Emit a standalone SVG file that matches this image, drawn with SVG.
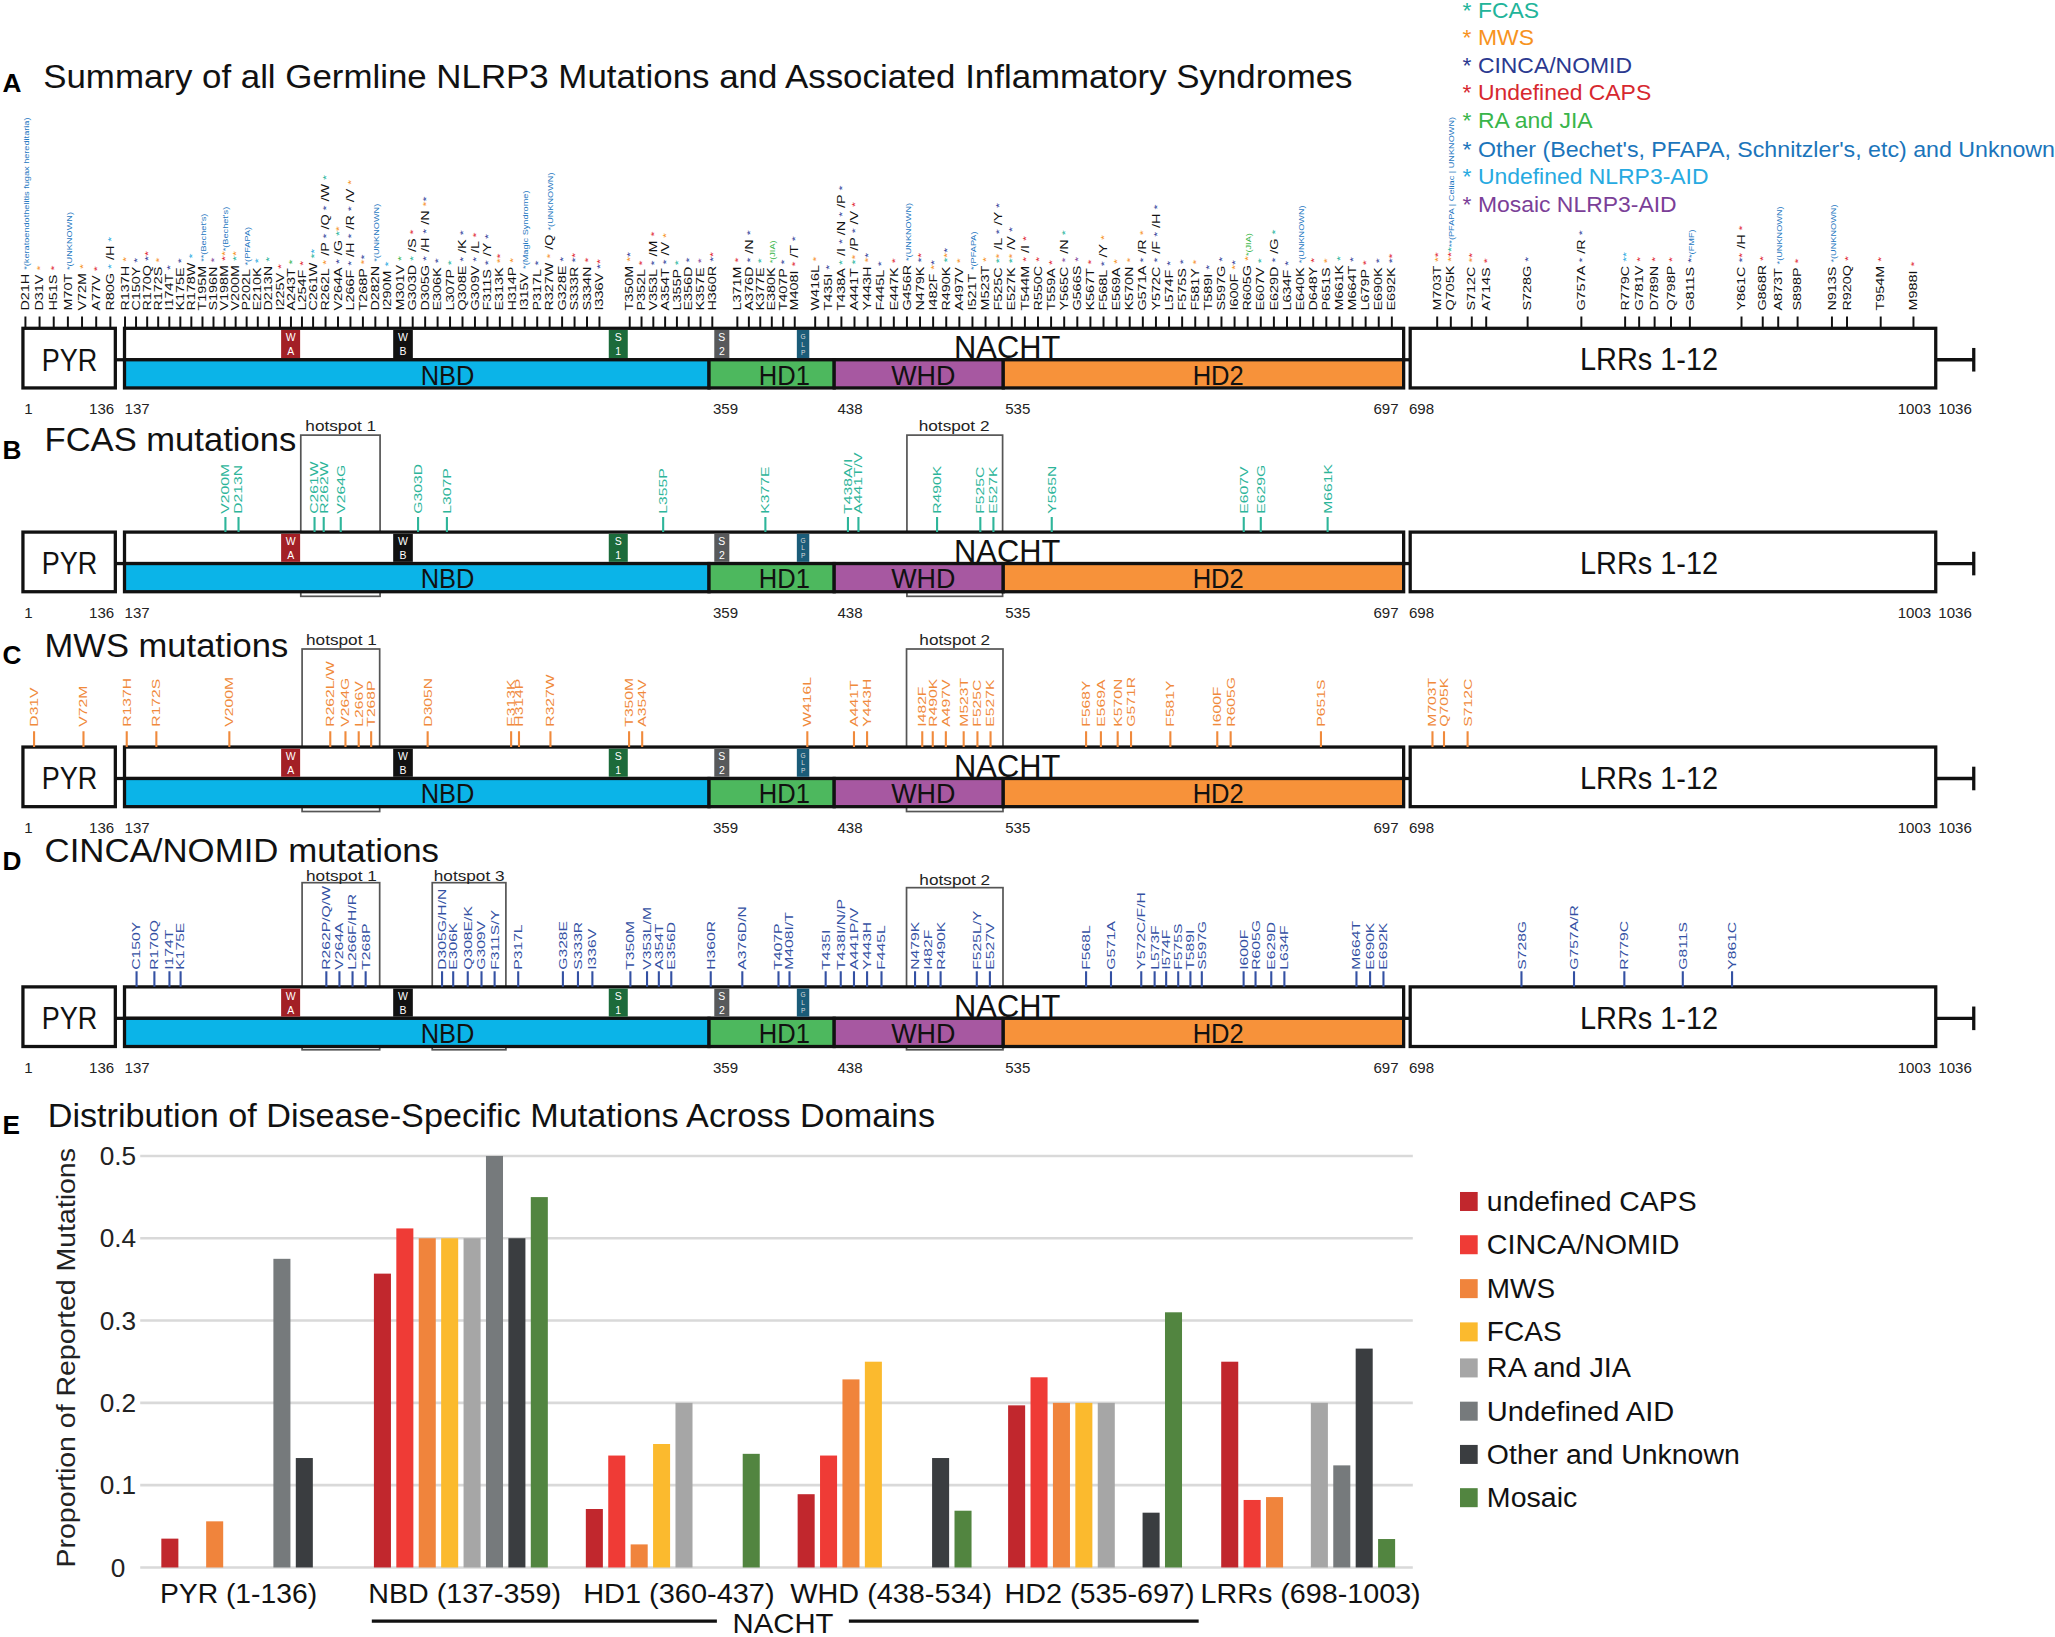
<svg xmlns="http://www.w3.org/2000/svg" width="2055" height="1637" viewBox="0 0 2055 1637">
<style>
text{font-family:"Liberation Sans",Arial,sans-serif}
.bx{fill:#fff;stroke:#111;stroke-width:2.5}
.bs{stroke:#111;stroke-width:2.5}
.ln{stroke:#111;stroke-width:2.5;fill:none}
.mt{fill:#fff;font-size:8px;text-anchor:middle}
.mt2{fill:#ddd;font-size:5px;text-anchor:middle}
.dl{font-size:24px;fill:#111}
.dm{font-size:21px;fill:#111}
.num{font-size:11.5px;fill:#222}
.ttl{font-size:25px;fill:#111}
.pl{font-size:20px;font-weight:bold;fill:#000}
.hs{fill:none;stroke:#555;stroke-width:1.3}
.hst{font-size:10.5px;fill:#222}
.la{font-size:11px;fill:#111}
.lb{font-size:12px;fill:#2db59a}
.lc{font-size:12px;fill:#f08a3c}
.ld{font-size:12px;fill:#3451a3}
.s{font-size:9.5px}
.an{font-size:7px}
.f{fill:#22b49a}.m{fill:#f7931e}.c{fill:#2e3d98}.u{fill:#e1262d}.j{fill:#39b54a}.o{fill:#1f78c1}.n{fill:#27aae1}.p{fill:#7f3f98}
.lg{font-size:17.5px}
.tA{stroke:#111;stroke-width:1.5;fill:none}
.tB{stroke:#2db59a;stroke-width:1.6;fill:none}
.tC{stroke:#f08a3c;stroke-width:1.6;fill:none}
.tD{stroke:#3451a3;stroke-width:1.6;fill:none}
.grid{stroke:#d9d9d9;stroke-width:2}
.ax{font-size:20px;fill:#222;text-anchor:middle}
.xl{font-size:21px;fill:#111}
.leg{font-size:21px;fill:#111}
.b1{fill:#c1272d}.b2{fill:#ef3b36}.b3{fill:#f0843c}.b4{fill:#fbba2e}.b5{fill:#a6a6a6}.b6{fill:#767a7c}.b7{fill:#3a3d40}.b8{fill:#528540}
</style>
<defs>
<g id="bar">
<rect x="17.5" y="0" width="70.5" height="45.5" class="bx"/>
<line x1="88" y1="24" x2="95" y2="24" class="ln"/>
<rect x="95" y="0" width="976" height="24" class="bx"/>
<rect x="95" y="24" width="446" height="21.5" fill="#0bb4e8" class="bs"/>
<rect x="541" y="24" width="95.5" height="21.5" fill="#4db85e" class="bs"/>
<rect x="636.5" y="24" width="129" height="21.5" fill="#a758a1" class="bs"/>
<rect x="765.5" y="24" width="305.5" height="21.5" fill="#f7923a" class="bs"/>
<line x1="1071" y1="24" x2="1076" y2="24" class="ln"/>
<rect x="1076" y="0" width="401" height="45.5" class="bx"/>
<line x1="1477" y1="24" x2="1506" y2="24" class="ln"/>
<line x1="1506" y1="15" x2="1506" y2="33" class="ln"/>
<rect x="214.5" y="1.3" width="14.5" height="21.4" fill="#a32026"/>
<rect x="300" y="1.3" width="15" height="21.4" fill="#111"/>
<rect x="464.5" y="1.3" width="14.5" height="21.4" fill="#1c6b3b"/>
<rect x="545" y="1.3" width="11.5" height="21.4" fill="#58595b"/>
<rect x="608" y="1.3" width="9.5" height="21.4" fill="#1b5c79"/>
<text x="221.75" y="10" class="mt">W</text><text x="221.75" y="20.5" class="mt">A</text>
<text x="307.5" y="10" class="mt">W</text><text x="307.5" y="20.5" class="mt">B</text>
<text x="471.75" y="10" class="mt">S</text><text x="471.75" y="20.5" class="mt">1</text>
<text x="550.75" y="10" class="mt">S</text><text x="550.75" y="20.5" class="mt">2</text>
<text x="612.75" y="8" class="mt2">G</text><text x="612.75" y="14" class="mt2">L</text><text x="612.75" y="20" class="mt2">P</text>
<text x="31.8" y="32.3" class="dl" textLength="42.4" lengthAdjust="spacingAndGlyphs">PYR</text>
<text x="728" y="23" class="dl" textLength="81" lengthAdjust="spacingAndGlyphs">NACHT</text>
<text x="321" y="43" class="dm" textLength="41" lengthAdjust="spacingAndGlyphs">NBD</text>
<text x="579" y="43" class="dm" textLength="39" lengthAdjust="spacingAndGlyphs">HD1</text>
<text x="680" y="43" class="dm" textLength="49" lengthAdjust="spacingAndGlyphs">WHD</text>
<text x="910" y="43" class="dm" textLength="39" lengthAdjust="spacingAndGlyphs">HD2</text>
<text x="1205.5" y="32" class="dl" font-size="25" textLength="105.5" lengthAdjust="spacingAndGlyphs">LRRs 1-12</text>
<text x="18.5" y="65.5" class="num">1</text>
<text x="68" y="65.5" class="num">136</text>
<text x="95" y="65.5" class="num">137</text>
<text x="544" y="65.5" class="num">359</text>
<text x="639" y="65.5" class="num">438</text>
<text x="767" y="65.5" class="num">535</text>
<text x="1048" y="65.5" class="num">697</text>
<text x="1075" y="65.5" class="num">698</text>
<text x="1448" y="65.5" class="num">1003</text>
<text x="1479" y="65.5" class="num">1036</text>
</g>
</defs>
<rect width="2055" height="1637" fill="#fff"/>
<g transform="scale(1.31059)">

<g id="titleA">
<text x="2" y="70" class="pl" font-size="18">A</text>
<text x="33" y="67" class="ttl" font-size="24" textLength="999" lengthAdjust="spacingAndGlyphs">Summary of all Germline NLRP3 Mutations and Associated Inflammatory Syndromes</text>
</g>

<g id="legendA" class="lg">
<text x="1116" y="13.5" fill="#22b49a">* FCAS</text>
<text x="1116" y="34.5" fill="#f7931e">* MWS</text>
<text x="1116" y="55.5" fill="#2b3990">* CINCA/NOMID</text>
<text x="1116" y="76.5" fill="#d7282f">* Undefined CAPS</text>
<text x="1116" y="98" fill="#39b54a">* RA and JIA</text>
<text x="1116" y="119.5" fill="#1b75bb" textLength="452" lengthAdjust="spacingAndGlyphs">* Other (Bechet's, PFAPA, Schnitzler's, etc) and Unknown</text>
<text x="1116" y="140.5" fill="#27aae1">* Undefined NLRP3-AID</text>
<text x="1116" y="162" fill="#7b3f98">* Mosaic NLRP3-AID</text>
</g>

<g id="panelB-hotspots">
<rect x="229.5" y="332" width="60.5" height="123" class="hs"/>
<rect x="692" y="332" width="73" height="123" class="hs"/>
<text x="233" y="329" class="hst" textLength="54" lengthAdjust="spacingAndGlyphs">hotspot 1</text>
<text x="701" y="329" class="hst" textLength="54" lengthAdjust="spacingAndGlyphs">hotspot 2</text>
</g>
<g id="panelC-hotspots">
<rect x="230.5" y="495.2" width="59.2" height="124" class="hs"/>
<rect x="691.7" y="495.2" width="73.6" height="124" class="hs"/>
<text x="233.5" y="492.5" class="hst" textLength="54" lengthAdjust="spacingAndGlyphs">hotspot 1</text>
<text x="701.5" y="492.5" class="hst" textLength="54" lengthAdjust="spacingAndGlyphs">hotspot 2</text>
</g>
<g id="panelD-hotspots">
<rect x="230.5" y="673.5" width="59.2" height="127.5" class="hs"/>
<rect x="329.8" y="673.5" width="56.2" height="127.5" class="hs"/>
<rect x="691.7" y="677.3" width="73.6" height="123.7" class="hs"/>
<text x="233.5" y="672.5" class="hst" textLength="54" lengthAdjust="spacingAndGlyphs">hotspot 1</text>
<text x="331" y="672.5" class="hst" textLength="54" lengthAdjust="spacingAndGlyphs">hotspot 3</text>
<text x="701.5" y="675.5" class="hst" textLength="54" lengthAdjust="spacingAndGlyphs">hotspot 2</text>
</g>

<g id="barA"><use href="#bar" y="250.5"/></g>
<g id="barB"><use href="#bar" y="406"/></g>
<g id="barC"><use href="#bar" y="570"/></g>
<g id="barD"><use href="#bar" y="753"/></g>

<g id="titleB"><text x="2" y="350" class="pl" font-size="18">B</text><text x="34" y="344.5" class="ttl" textLength="192" lengthAdjust="spacingAndGlyphs">FCAS mutations</text></g>
<g id="titleC"><text x="2" y="507" class="pl" font-size="18">C</text><text x="34" y="501.5" class="ttl" font-size="24" textLength="186" lengthAdjust="spacingAndGlyphs">MWS mutations</text></g>
<g id="titleD"><text x="2" y="664" class="pl" font-size="18">D</text><text x="34" y="658" class="ttl" font-size="24" textLength="301" lengthAdjust="spacingAndGlyphs">CINCA/NOMID mutations</text></g>

<g id="connectors">
<path class="tA" d="M19.4 241.5v9M30.2 241.5v9M41 241.5v9M51.8 241.5v9M62.6 241.5v9M73.4 241.5v9M84.2 241.5v9M95.4 241.5v9M103.8 241.5v9M112.3 241.5v9M120.7 241.5v9M129.2 241.5v9M137.6 241.5v9M146 241.5v9M154.5 241.5v9M162.9 241.5v9M171.4 241.5v9M179.8 241.5v9M188.2 241.5v9M196.7 241.5v9M205.1 241.5v9M213.6 241.5v9M222 241.5v9M230.4 241.5v9M238.9 241.5v9M248.4 241.5v9M257.9 241.5v9M267.4 241.5v9M276.9 241.5v9M286.4 241.5v9M295.9 241.5v9M305.4 241.5v9M314.9 241.5v9M324.4 241.5v9M333.9 241.5v9M343.4 241.5v9M352.9 241.5v9M362.4 241.5v9M371.9 241.5v9M381.4 241.5v9M390.9 241.5v9M400.4 241.5v9M409.9 241.5v9M419.4 241.5v9M428.9 241.5v9M438.4 241.5v9M447.9 241.5v9M457.4 241.5v9M480.5 241.5v9M489.5 241.5v9M498.5 241.5v9M507.5 241.5v9M516.5 241.5v9M525.5 241.5v9M534.5 241.5v9M543.5 241.5v9M562.6 241.5v9M571.4 241.5v9M580.1 241.5v9M588.9 241.5v9M597.6 241.5v9M606.4 241.5v9M622 241.5v9M632 241.5v9M642 241.5v9M652 241.5v9M662 241.5v9M672 241.5v9M682 241.5v9M692 241.5v9M702 241.5v9M712 241.5v9M722 241.5v9M732 241.5v9M742 241.5v9M752 241.5v9M762 241.5v9M772 241.5v9M782 241.5v9M792 241.5v9M802 241.5v9M812 241.5v9M822 241.5v9M832 241.5v9M842 241.5v9M852 241.5v9M862 241.5v9M872 241.5v9M882 241.5v9M892 241.5v9M902 241.5v9M912 241.5v9M922 241.5v9M932 241.5v9M942 241.5v9M952 241.5v9M962 241.5v9M972 241.5v9M982 241.5v9M992 241.5v9M1002 241.5v9M1012 241.5v9M1022 241.5v9M1032 241.5v9M1042 241.5v9M1052 241.5v9M1062 241.5v9M1096.6 241.5v9M1107 241.5v9M1123 241.5v9M1134 241.5v9M1165.6 241.5v9M1206.6 241.5v9M1240 241.5v9M1250.7 241.5v9M1262.5 241.5v9M1275 241.5v9M1289.4 241.5v9M1328.8 241.5v9M1345 241.5v9M1356.8 241.5v9M1371.6 241.5v9M1397.8 241.5v9M1409.3 241.5v9M1435 241.5v9M1460 241.5v9"/>
<path class="tB" d="M172 394.5v11.5M182 394.5v11.5M240 394.5v11.5M247 394.5v11.5M260 394.5v11.5M319 394.5v11.5M341 394.5v11.5M506 394.5v11.5M584 394.5v11.5M647 394.5v11.5M655 394.5v11.5M715 394.5v11.5M748 394.5v11.5M758 394.5v11.5M802.5 394.5v11.5M949 394.5v11.5M962 394.5v11.5M1013 394.5v11.5"/>
<path class="tC" d="M26 558v12M63.7 558v12M96.7 558v12M119.3 558v12M175 558v12M252 558v12M263.6 558v12M273.7 558v12M283.2 558v12M326.3 558v12M390 558v12M396 558v12M420 558v12M480 558v12M490 558v12M616 558v12M651.6 558v12M661.6 558v12M703.7 558v12M711.7 558v12M721.7 558v12M735.3 558v12M745.8 558v12M755.8 558v12M828.7 558v12M840 558v12M852.8 558v12M863 558v12M893 558v12M928.8 558v12M939 558v12M1007.9 558v12M1093 558v12M1101.8 558v12M1119.8 558v12"/>
<path class="tD" d="M104.2 741v12M117.8 741v12M129.3 741v12M137.8 741v12M249 741v12M259 741v12M269 741v12M279 741v12M337.3 741v12M345.8 741v12M356.9 741v12M367.4 741v12M377.4 741v12M395.4 741v12M429.5 741v12M441 741v12M452 741v12M481 741v12M493.7 741v12M502.7 741v12M512.2 741v12M542.3 741v12M566.4 741v12M594 741v12M602.4 741v12M630 741v12M641.5 741v12M651.6 741v12M661.6 741v12M672.6 741v12M698.2 741v12M708.2 741v12M717.7 741v12M745.3 741v12M755.3 741v12M828.7 741v12M847.7 741v12M870.8 741v12M881 741v12M889.8 741v12M899 741v12M908.3 741v12M917 741v12M948.9 741v12M958 741v12M970 741v12M980 741v12M1035 741v12M1045.4 741v12M1055.6 741v12M1160.9 741v12M1201 741v12M1239.4 741v12M1284 741v12M1321.6 741v12"/>
</g>

<g id="labelsA" class="la" transform="rotate(-90) scale(1,0.75)">
<text x="-237" y="29.6">D21H <tspan class="an o">*(keratoendothelitis fugax hereditaria)</tspan></text>
<text x="-237" y="44">D31V <tspan class="s m">*</tspan></text>
<text x="-237" y="58.4">H51S <tspan class="s u">*</tspan></text>
<text x="-237" y="72.8">M70T <tspan class="an o">*(UNKNOWN)</tspan></text>
<text x="-237" y="87.2">V72M <tspan class="s m">*</tspan></text>
<text x="-237" y="101.6">A77V <tspan class="s u">*</tspan></text>
<text x="-237" y="116">R80G <tspan class="s n">*</tspan> /H <tspan class="s n">*</tspan></text>
<text x="-237" y="130.9">R137H <tspan class="s m">*</tspan></text>
<text x="-237" y="142.2">C150Y <tspan class="s c">*</tspan></text>
<text x="-237" y="153.8">R170Q <tspan class="s c">*</tspan><tspan class="s u">*</tspan></text>
<text x="-237" y="164.7">R172S <tspan class="s m">*</tspan></text>
<text x="-237" y="175.9">I174T <tspan class="s c">*</tspan></text>
<text x="-237" y="187.2">K175E <tspan class="s c">*</tspan></text>
<text x="-237" y="198.4">R178W <tspan class="s n">*</tspan></text>
<text x="-237" y="209.7">T195M <tspan class="an o">**(Bechet's)</tspan></text>
<text x="-237" y="221">S196N <tspan class="s p">*</tspan></text>
<text x="-237" y="232.2">V198M <tspan class="s u">*</tspan><tspan class="s m">*</tspan><tspan class="an o">*(Bechet's)</tspan></text>
<text x="-237" y="243.5">V200M <tspan class="s f">*</tspan><tspan class="s m">*</tspan></text>
<text x="-237" y="254.7">P202L <tspan class="an o">*(PFAPA)</tspan></text>
<text x="-237" y="266">E210K <tspan class="s n">*</tspan></text>
<text x="-237" y="277.2">D213N <tspan class="s f">*</tspan></text>
<text x="-237" y="288.5">I225V <tspan class="s u">*</tspan></text>
<text x="-237" y="299.7">A243T <tspan class="s j">*</tspan></text>
<text x="-237" y="311">L254F <tspan class="s u">*</tspan></text>
<text x="-237" y="322.2">C261W <tspan class="s f">*</tspan><tspan class="s n">*</tspan></text>
<text x="-237" y="334.9">R262L <tspan class="s m">*</tspan> /P <tspan class="s c">*</tspan> /Q <tspan class="s c">*</tspan> /W <tspan class="s f">*</tspan></text>
<text x="-237" y="347.6">V264A <tspan class="s c">*</tspan> /G <tspan class="s f">*</tspan><tspan class="s m">*</tspan></text>
<text x="-237" y="360.2">L266F <tspan class="s c">*</tspan> /H <tspan class="s c">*</tspan> /R <tspan class="s c">*</tspan> /V <tspan class="s m">*</tspan></text>
<text x="-237" y="372.9">T268P <tspan class="s m">*</tspan><tspan class="s c">*</tspan></text>
<text x="-237" y="385.6">D282N <tspan class="an o">*(UNKNOWN)</tspan></text>
<text x="-237" y="398.2">I290M <tspan class="s n">*</tspan></text>
<text x="-237" y="410.9">M301V <tspan class="s j">*</tspan></text>
<text x="-237" y="423.6">G303D <tspan class="s f">*</tspan> /S <tspan class="s u">*</tspan></text>
<text x="-237" y="436.2">D305G <tspan class="s c">*</tspan> /H <tspan class="s c">*</tspan> /N <tspan class="s m">*</tspan><tspan class="s c">*</tspan></text>
<text x="-237" y="448.9">E306K <tspan class="s c">*</tspan></text>
<text x="-237" y="461.6">L307P <tspan class="s f">*</tspan></text>
<text x="-237" y="474.2">Q308E <tspan class="s c">*</tspan> /K <tspan class="s c">*</tspan></text>
<text x="-237" y="486.9">G309V <tspan class="s c">*</tspan> /L <tspan class="s u">*</tspan></text>
<text x="-237" y="499.6">F311S <tspan class="s c">*</tspan> /Y <tspan class="s c">*</tspan></text>
<text x="-237" y="512.2">E313K <tspan class="s m">*</tspan><tspan class="s u">*</tspan></text>
<text x="-237" y="524.9">H314P <tspan class="s m">*</tspan></text>
<text x="-237" y="537.6">I315V <tspan class="an o">*(Magic Syndrome)</tspan></text>
<text x="-237" y="550.2">P317L <tspan class="s c">*</tspan></text>
<text x="-237" y="562.9">R327W <tspan class="s m">*</tspan> /Q <tspan class="an o">*(UNKNOWN)</tspan></text>
<text x="-237" y="575.6">G328E <tspan class="s c">*</tspan></text>
<text x="-237" y="588.2">S333R <tspan class="s c">*</tspan><tspan class="s u">*</tspan></text>
<text x="-237" y="600.9">S334N <tspan class="s u">*</tspan></text>
<text x="-237" y="613.6">I336V <tspan class="s c">*</tspan><tspan class="s u">*</tspan></text>
<text x="-237" y="644.4">T350M <tspan class="s m">*</tspan><tspan class="s c">*</tspan></text>
<text x="-237" y="656.4">P352L <tspan class="s u">*</tspan></text>
<text x="-237" y="668.4">V353L <tspan class="s c">*</tspan> /M <tspan class="s u">*</tspan></text>
<text x="-237" y="680.4">A354T <tspan class="s c">*</tspan> /V <tspan class="s m">*</tspan></text>
<text x="-237" y="692.4">L355P <tspan class="s f">*</tspan></text>
<text x="-237" y="704.4">E356D <tspan class="s c">*</tspan></text>
<text x="-237" y="716.4">K357E <tspan class="s p">*</tspan></text>
<text x="-237" y="728.4">H360R <tspan class="s c">*</tspan><tspan class="s u">*</tspan></text>
<text x="-237" y="753.9">L371M <tspan class="s u">*</tspan></text>
<text x="-237" y="765.6">A376D <tspan class="s c">*</tspan> /N <tspan class="s c">*</tspan></text>
<text x="-237" y="777.2">K377E <tspan class="s f">*</tspan></text>
<text x="-237" y="788.9">E380K <tspan class="an j">*(JIA)</tspan></text>
<text x="-237" y="800.5">T407P <tspan class="s c">*</tspan></text>
<text x="-237" y="812.3">M408I <tspan class="s u">*</tspan> /T <tspan class="s c">*</tspan></text>
<text x="-237" y="833.1">W416L <tspan class="s m">*</tspan></text>
<text x="-237" y="846.4">T435I <tspan class="s c">*</tspan></text>
<text x="-237" y="859.7">T438A <tspan class="s f">*</tspan> /I <tspan class="s c">*</tspan> /N <tspan class="s c">*</tspan> /P <tspan class="s c">*</tspan></text>
<text x="-237" y="873.1">A441T <tspan class="s f">*</tspan><tspan class="s m">*</tspan> /P <tspan class="s c">*</tspan> /V <tspan class="s u">*</tspan></text>
<text x="-237" y="886.4">Y443H <tspan class="s m">*</tspan><tspan class="s c">*</tspan></text>
<text x="-237" y="899.7">F445L <tspan class="s c">*</tspan></text>
<text x="-237" y="913.1">E447K <tspan class="s u">*</tspan></text>
<text x="-237" y="926.4">G456R <tspan class="an o">*(UNKNOWN)</tspan></text>
<text x="-237" y="939.7">N479K <tspan class="s c">*</tspan><tspan class="s u">*</tspan></text>
<text x="-237" y="953.1">I482F <tspan class="s m">*</tspan><tspan class="s c">*</tspan></text>
<text x="-237" y="966.4">R490K <tspan class="s f">*</tspan><tspan class="s m">*</tspan><tspan class="s c">*</tspan></text>
<text x="-237" y="979.7">A497V <tspan class="s m">*</tspan></text>
<text x="-237" y="993.1">I521T <tspan class="an o">*(PFAPA)</tspan></text>
<text x="-237" y="1006.4">M523T <tspan class="s m">*</tspan></text>
<text x="-237" y="1019.7">F525C <tspan class="s f">*</tspan><tspan class="s m">*</tspan> /L <tspan class="s c">*</tspan> /Y <tspan class="s c">*</tspan></text>
<text x="-237" y="1033.1">E527K <tspan class="s f">*</tspan><tspan class="s m">*</tspan> /V <tspan class="s c">*</tspan></text>
<text x="-237" y="1046.4">T544M <tspan class="s u">*</tspan> /I <tspan class="s u">*</tspan></text>
<text x="-237" y="1059.7">R550C <tspan class="s u">*</tspan></text>
<text x="-237" y="1073.1">T559A <tspan class="s u">*</tspan></text>
<text x="-237" y="1086.4">Y565C <tspan class="s p">*</tspan> /N <tspan class="s f">*</tspan></text>
<text x="-237" y="1099.7">G566S <tspan class="s p">*</tspan></text>
<text x="-237" y="1113.1">K567T <tspan class="s u">*</tspan></text>
<text x="-237" y="1126.4">F568L <tspan class="s c">*</tspan> /Y <tspan class="s m">*</tspan></text>
<text x="-237" y="1139.7">E569A <tspan class="s m">*</tspan></text>
<text x="-237" y="1153.1">K570N <tspan class="s m">*</tspan></text>
<text x="-237" y="1166.4">G571A <tspan class="s c">*</tspan> /R <tspan class="s m">*</tspan></text>
<text x="-237" y="1179.7">Y572C <tspan class="s c">*</tspan> /F <tspan class="s c">*</tspan> /H <tspan class="s c">*</tspan></text>
<text x="-237" y="1193.1">L574F <tspan class="s c">*</tspan></text>
<text x="-237" y="1206.4">F575S <tspan class="s c">*</tspan></text>
<text x="-237" y="1219.7">F581Y <tspan class="s m">*</tspan></text>
<text x="-237" y="1233.1">T589I <tspan class="s c">*</tspan></text>
<text x="-237" y="1246.4">S597G <tspan class="s c">*</tspan></text>
<text x="-237" y="1259.7">I600F <tspan class="s m">*</tspan><tspan class="s c">*</tspan></text>
<text x="-237" y="1273.1">R605G <tspan class="s m">*</tspan><tspan class="an j">*(JIA)</tspan></text>
<text x="-237" y="1286.4">E607V <tspan class="s f">*</tspan></text>
<text x="-237" y="1299.7">E629D <tspan class="s c">*</tspan> /G <tspan class="s f">*</tspan></text>
<text x="-237" y="1313.1">L634F <tspan class="s c">*</tspan></text>
<text x="-237" y="1326.4">E640K <tspan class="an o">*(UNKNOWN)</tspan></text>
<text x="-237" y="1339.7">D648Y <tspan class="s u">*</tspan></text>
<text x="-237" y="1353.1">P651S <tspan class="s m">*</tspan></text>
<text x="-237" y="1366.4">M661K <tspan class="s f">*</tspan></text>
<text x="-237" y="1379.7">M664T <tspan class="s c">*</tspan></text>
<text x="-237" y="1393.1">L679P <tspan class="s u">*</tspan></text>
<text x="-237" y="1406.4">E690K <tspan class="s c">*</tspan></text>
<text x="-237" y="1419.7">E692K <tspan class="s c">*</tspan><tspan class="s u">*</tspan></text>
<text x="-237" y="1465.9">M703T <tspan class="s m">*</tspan><tspan class="s u">*</tspan></text>
<text x="-237" y="1479.7">Q705K <tspan class="s m">*</tspan><tspan class="s u">*</tspan><tspan class="s f">*</tspan><tspan class="an o">**(PFAPA | Celiac | UNKNOWN)</tspan></text>
<text x="-237" y="1501.1">S712C <tspan class="s m">*</tspan><tspan class="s u">*</tspan></text>
<text x="-237" y="1515.7">A714S <tspan class="s u">*</tspan></text>
<text x="-237" y="1557.9">S728G <tspan class="s c">*</tspan></text>
<text x="-237" y="1612.5">G757A <tspan class="s c">*</tspan> /R <tspan class="s c">*</tspan></text>
<text x="-237" y="1657.1">R779C <tspan class="s n">*</tspan><tspan class="s n">*</tspan></text>
<text x="-237" y="1671.3">G781V <tspan class="s u">*</tspan></text>
<text x="-237" y="1687.1">D789N <tspan class="s u">*</tspan></text>
<text x="-237" y="1703.7">Q798P <tspan class="s u">*</tspan></text>
<text x="-237" y="1722.9">G811S <tspan class="s c">*</tspan><tspan class="an o">*(FMF)</tspan></text>
<text x="-237" y="1775.5">Y861C <tspan class="s c">*</tspan><tspan class="s u">*</tspan> /H <tspan class="s u">*</tspan></text>
<text x="-237" y="1797.1">G868R <tspan class="s u">*</tspan></text>
<text x="-237" y="1812.8">A873T <tspan class="an o">*(UNKNOWN)</tspan></text>
<text x="-237" y="1832.5">S898P <tspan class="s u">*</tspan></text>
<text x="-237" y="1867.5">N913S <tspan class="an o">*(UNKNOWN)</tspan></text>
<text x="-237" y="1882.8">R920Q <tspan class="s u">*</tspan></text>
<text x="-237" y="1917.1">T954M <tspan class="s u">*</tspan></text>
<text x="-237" y="1950.4">M988I <tspan class="s u">*</tspan></text>
</g>

<g id="labelsB" class="lb" transform="rotate(-90) scale(1,0.7)">
<text x="-392" y="250">V200M</text>
<text x="-392" y="264.3">D213N</text>
<text x="-392" y="347.1">C261W</text>
<text x="-392" y="357.1">R262W</text>
<text x="-392" y="375.7">V264G</text>
<text x="-392" y="460">G303D</text>
<text x="-392" y="491.4">L307P</text>
<text x="-392" y="727.1">L355P</text>
<text x="-392" y="838.6">K377E</text>
<text x="-392" y="928.6">T438A/I</text>
<text x="-392" y="940">A441T/V</text>
<text x="-392" y="1025.7">R490K</text>
<text x="-392" y="1072.9">F525C</text>
<text x="-392" y="1087.1">E527K</text>
<text x="-392" y="1150.7">Y565N</text>
<text x="-392" y="1360">E607V</text>
<text x="-392" y="1378.6">E629G</text>
<text x="-392" y="1451.4">M661K</text>
</g>

<g id="labelsC" class="lc" transform="rotate(-90) scale(1,0.7)">
<text x="-554.5" y="41.4">D31V</text>
<text x="-554.5" y="95.3">V72M</text>
<text x="-554.5" y="142.4">R137H</text>
<text x="-554.5" y="174.7">R172S</text>
<text x="-554.5" y="254.3">V200M</text>
<text x="-554.5" y="364.3">R262L/W</text>
<text x="-554.5" y="380.9">V264G</text>
<text x="-554.5" y="395.3">L266V</text>
<text x="-554.5" y="408.9">T268P</text>
<text x="-554.5" y="470.4">D305N</text>
<text x="-554.5" y="561.4">E313K</text>
<text x="-554.5" y="570">H314P</text>
<text x="-554.5" y="604.3">R327W</text>
<text x="-554.5" y="690">T350M</text>
<text x="-554.5" y="704.3">A354V</text>
<text x="-554.5" y="884.3">W416L</text>
<text x="-554.5" y="935.1">A441T</text>
<text x="-554.5" y="949.4">Y443H</text>
<text x="-554.5" y="1009.6">I482F</text>
<text x="-554.5" y="1021">R490K</text>
<text x="-554.5" y="1035.3">A497V</text>
<text x="-554.5" y="1054.7">M523T</text>
<text x="-554.5" y="1069.7">F525C</text>
<text x="-554.5" y="1084">E527K</text>
<text x="-554.5" y="1188.1">F568Y</text>
<text x="-554.5" y="1204.3">E569A</text>
<text x="-554.5" y="1222.6">K570N</text>
<text x="-554.5" y="1237.1">G571R</text>
<text x="-554.5" y="1280">F581Y</text>
<text x="-554.5" y="1331.1">I600F</text>
<text x="-554.5" y="1345.7">R605G</text>
<text x="-554.5" y="1444.1">P651S</text>
<text x="-554.5" y="1565.7">M703T</text>
<text x="-554.5" y="1578.3">Q705K</text>
<text x="-554.5" y="1604">S712C</text>
</g>

<g id="labelsD" class="ld" transform="rotate(-90) scale(1,0.7)">
<text x="-740" y="153.1">C150Y</text>
<text x="-740" y="172.6">R170Q</text>
<text x="-740" y="189">I174T</text>
<text x="-740" y="201.1">K175E</text>
<text x="-740" y="360">R262P/Q/W</text>
<text x="-740" y="374.3">V264A</text>
<text x="-740" y="388.6">L266F/H/R</text>
<text x="-740" y="402.9">T268P</text>
<text x="-740" y="486.1">D305G/H/N</text>
<text x="-740" y="498.3">E306K</text>
<text x="-740" y="514.1">Q308E/K</text>
<text x="-740" y="529.1">G309V</text>
<text x="-740" y="543.4">F311S/Y</text>
<text x="-740" y="569.1">P317L</text>
<text x="-740" y="617.9">G328E</text>
<text x="-740" y="634.3">S333R</text>
<text x="-740" y="650">I336V</text>
<text x="-740" y="691.4">T350M</text>
<text x="-740" y="709.6">V353L/M</text>
<text x="-740" y="722.4">A354T</text>
<text x="-740" y="736">E356D</text>
<text x="-740" y="779">H360R</text>
<text x="-740" y="813.4">A376D/N</text>
<text x="-740" y="852.9">T407P</text>
<text x="-740" y="864.9">M408I/T</text>
<text x="-740" y="904.3">T435I</text>
<text x="-740" y="920.7">T438I/N/P</text>
<text x="-740" y="935.1">A441P/V</text>
<text x="-740" y="949.4">Y443H</text>
<text x="-740" y="965.1">F445L</text>
<text x="-740" y="1001.7">N479K</text>
<text x="-740" y="1016">I482F</text>
<text x="-740" y="1029.6">R490K</text>
<text x="-740" y="1069">F525L/Y</text>
<text x="-740" y="1083.3">E527V</text>
<text x="-740" y="1188.1">F568L</text>
<text x="-740" y="1215.3">G571A</text>
<text x="-740" y="1248.3">Y572C/F/H</text>
<text x="-740" y="1262.9">L573F</text>
<text x="-740" y="1275.4">I574F</text>
<text x="-740" y="1288.6">F575S</text>
<text x="-740" y="1301.9">T589I</text>
<text x="-740" y="1314.3">S597G</text>
<text x="-740" y="1360">I600F</text>
<text x="-740" y="1372.9">R605G</text>
<text x="-740" y="1390">E629D</text>
<text x="-740" y="1404.3">L634F</text>
<text x="-740" y="1482.9">M664T</text>
<text x="-740" y="1497.7">E690K</text>
<text x="-740" y="1512.3">E692K</text>
<text x="-740" y="1663">S728G</text>
<text x="-740" y="1720">G757A/R</text>
<text x="-740" y="1774.9">R779C</text>
<text x="-740" y="1838.6">G811S</text>
<text x="-740" y="1892.3">Y861C</text>
</g>

<g id="chartE">
<text x="2" y="865" class="pl" font-size="18">E</text>
<text x="36.4" y="860" class="ttl" font-size="23" textLength="677" lengthAdjust="spacingAndGlyphs">Distribution of Disease-Specific Mutations Across Domains</text>
<g id="gridE">
<line x1="107" y1="882" x2="1078" y2="882" class="grid"/>
<line x1="107" y1="944.8" x2="1078" y2="944.8" class="grid"/>
<line x1="107" y1="1007.6" x2="1078" y2="1007.6" class="grid"/>
<line x1="107" y1="1070.4" x2="1078" y2="1070.4" class="grid"/>
<line x1="107" y1="1133.2" x2="1078" y2="1133.2" class="grid"/>
<line x1="107" y1="1196" x2="1078" y2="1196" class="grid"/>
</g>
<g id="yticksE">
<text x="90" y="889" class="ax">0.5</text>
<text x="90" y="951.8" class="ax">0.4</text>
<text x="90" y="1014.6" class="ax">0.3</text>
<text x="90" y="1077.4" class="ax">0.2</text>
<text x="90" y="1140.2" class="ax">0.1</text>
<text x="90" y="1203" class="ax">0</text>
</g>
<text transform="translate(57,1036) rotate(-90)" class="ax" font-size="20" textLength="320" lengthAdjust="spacingAndGlyphs">Proportion of Reported Mutations</text>
<g id="barsE">
<rect x="123.1" y="1174" width="13" height="22" class="b1"/>
<rect x="157.3" y="1160.8" width="13" height="35.2" class="b3"/>
<rect x="208.6" y="960.5" width="13" height="235.5" class="b6"/>
<rect x="225.7" y="1112.5" width="13" height="83.5" class="b7"/>
<rect x="285.3" y="971.8" width="13" height="224.2" class="b1"/>
<rect x="302.4" y="937.3" width="13" height="258.7" class="b2"/>
<rect x="319.5" y="944.8" width="13" height="251.2" class="b3"/>
<rect x="336.6" y="944.8" width="13" height="251.2" class="b4"/>
<rect x="353.7" y="944.8" width="13" height="251.2" class="b5"/>
<rect x="370.8" y="882" width="13" height="314" class="b6"/>
<rect x="387.9" y="944.8" width="13" height="251.2" class="b7"/>
<rect x="405" y="913.4" width="13" height="282.6" class="b8"/>
<rect x="447" y="1151.4" width="13" height="44.6" class="b1"/>
<rect x="464.1" y="1110.6" width="13" height="85.4" class="b2"/>
<rect x="481.2" y="1178.4" width="13" height="17.6" class="b3"/>
<rect x="498.3" y="1101.8" width="13" height="94.2" class="b4"/>
<rect x="515.4" y="1070.4" width="13" height="125.6" class="b5"/>
<rect x="566.7" y="1109.3" width="13" height="86.7" class="b8"/>
<rect x="608.6" y="1140.1" width="13" height="55.9" class="b1"/>
<rect x="625.7" y="1110.6" width="13" height="85.4" class="b2"/>
<rect x="642.8" y="1052.5" width="13" height="143.5" class="b3"/>
<rect x="659.9" y="1039" width="13" height="157" class="b4"/>
<rect x="711.2" y="1112.5" width="13" height="83.5" class="b7"/>
<rect x="728.3" y="1152.7" width="13" height="43.3" class="b8"/>
<rect x="769.2" y="1072.3" width="13" height="123.7" class="b1"/>
<rect x="786.3" y="1050.9" width="13" height="145.1" class="b2"/>
<rect x="803.4" y="1070.4" width="13" height="125.6" class="b3"/>
<rect x="820.5" y="1070.4" width="13" height="125.6" class="b4"/>
<rect x="837.6" y="1070.4" width="13" height="125.6" class="b5"/>
<rect x="871.8" y="1154.2" width="13" height="41.8" class="b7"/>
<rect x="888.9" y="1001.3" width="13" height="194.7" class="b8"/>
<rect x="931.8" y="1039" width="13" height="157" class="b1"/>
<rect x="948.9" y="1144.5" width="13" height="51.5" class="b2"/>
<rect x="966" y="1142.3" width="13" height="53.7" class="b3"/>
<rect x="1000.2" y="1070.4" width="13" height="125.6" class="b5"/>
<rect x="1017.3" y="1118.1" width="13" height="77.9" class="b6"/>
<rect x="1034.4" y="1029" width="13" height="167" class="b7"/>
<rect x="1051.5" y="1174.3" width="13" height="21.7" class="b8"/>
</g>
<g id="xlabelsE">
<text x="122" y="1223" class="xl" textLength="120" lengthAdjust="spacingAndGlyphs">PYR (1-136)</text>
<text x="281" y="1223" class="xl" textLength="147" lengthAdjust="spacingAndGlyphs">NBD (137-359)</text>
<text x="445" y="1223" class="xl" textLength="146" lengthAdjust="spacingAndGlyphs">HD1 (360-437)</text>
<text x="603" y="1223" class="xl" textLength="154" lengthAdjust="spacingAndGlyphs">WHD (438-534)</text>
<text x="766.5" y="1223" class="xl" textLength="145" lengthAdjust="spacingAndGlyphs">HD2 (535-697)</text>
<text x="916" y="1223" class="xl" textLength="168" lengthAdjust="spacingAndGlyphs">LRRs (698-1003)</text>
<line x1="283.7" y1="1237" x2="547" y2="1237" class="ln"/>
<line x1="647.7" y1="1237" x2="914.6" y2="1237" class="ln"/>
<text x="559" y="1246" class="xl" font-size="22" textLength="77" lengthAdjust="spacingAndGlyphs">NACHT</text>
</g>
<g id="legendE">
<rect x="1114" y="909.5" width="13.5" height="14.5" class="b1"/><text x="1134.5" y="924" class="leg" textLength="160" lengthAdjust="spacingAndGlyphs">undefined CAPS</text>
<rect x="1114" y="942.5" width="13.5" height="14.5" class="b2"/><text x="1134.5" y="957" class="leg" textLength="147" lengthAdjust="spacingAndGlyphs">CINCA/NOMID</text>
<rect x="1114" y="976" width="13.5" height="14.5" class="b3"/><text x="1134.5" y="990.5" class="leg" textLength="52" lengthAdjust="spacingAndGlyphs">MWS</text>
<rect x="1114" y="1009" width="13.5" height="14.5" class="b4"/><text x="1134.5" y="1023.5" class="leg" textLength="57" lengthAdjust="spacingAndGlyphs">FCAS</text>
<rect x="1114" y="1036.5" width="13.5" height="14.5" class="b5"/><text x="1134.5" y="1051" class="leg" textLength="110" lengthAdjust="spacingAndGlyphs">RA and JIA</text>
<rect x="1114" y="1069.5" width="13.5" height="14.5" class="b6"/><text x="1134.5" y="1084" class="leg" textLength="143" lengthAdjust="spacingAndGlyphs">Undefined AID</text>
<rect x="1114" y="1102.5" width="13.5" height="14.5" class="b7"/><text x="1134.5" y="1117" class="leg" textLength="193" lengthAdjust="spacingAndGlyphs">Other and Unknown</text>
<rect x="1114" y="1135.5" width="13.5" height="14.5" class="b8"/><text x="1134.5" y="1150" class="leg" textLength="69" lengthAdjust="spacingAndGlyphs">Mosaic</text>
</g>
</g>
</g>
</svg>
